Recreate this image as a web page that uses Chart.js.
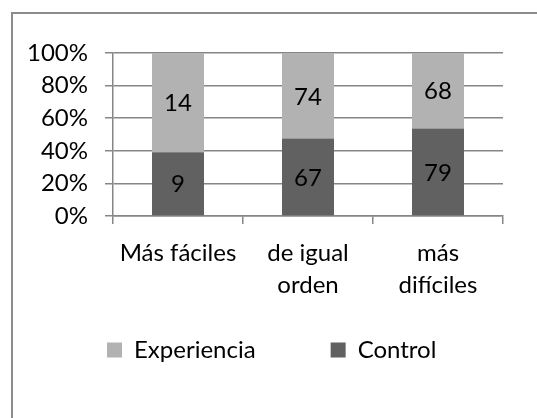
<!DOCTYPE html>
<html>
<head>
<meta charset="utf-8">
<script src="https://cdn.jsdelivr.net/npm/chart.js@4"></script>
<style>
  body { margin: 0; background: #fff; overflow: hidden; }
  #frame { position: absolute; left: 11px; top: 12px; width: 600px; height: 500px;
           border-left: 2px solid #8c8c8c; border-top: 2px solid #8c8c8c; }
  #wrap { position: absolute; left: 0; top: 0; width: 537px; height: 418px; }
</style>
</head>
<body>
<div id="frame"></div>
<div id="wrap"><canvas id="chart" width="537" height="418"></canvas></div>
<script>
const categories = [["Más fáciles"], ["de igual", "orden"], ["más", "difíciles"]];
const controlValues = [9, 67, 79];
const experienciaValues = [14, 74, 68];
const yTicks = [0, 20, 40, 60, 80, 100];

const gridColor = "#868686";
const font = { family: "Lato", size: 24 };

// 100% stacked: share of each group per category
const toPercent = (vals, other) => vals.map((v, i) => (v / (v + other[i])) * 100);

// raw counts written in the middle of each segment
const valueLabels = {
  id: "valueLabels",
  afterDatasetsDraw(chart) {
    const ctx = chart.ctx;
    ctx.save();
    ctx.font = `${font.size}px ${font.family}`;
    ctx.fillStyle = "#000";
    ctx.textAlign = "center";
    ctx.textBaseline = "middle";
    chart.data.datasets.forEach((ds, di) => {
      chart.getDatasetMeta(di).data.forEach((bar, i) => {
        ctx.fillText(ds.raw[i], bar.x, (bar.y + bar.base) / 2 + 1);
      });
    });
    ctx.restore();
  },
};

// legend sits closer to the axis labels than the layout would put it
const legendPlace = {
  id: "legendPlace",
  beforeDraw(chart) {
    const lg = chart.legend;
    const dx = 32 - lg.left, dy = 263 - lg.top;
    lg.left += dx; lg.right += dx;
    lg.top += dy; lg.bottom += dy;
  },
};

new Chart(document.getElementById("chart"), {
  type: "bar",
  data: {
    labels: categories,
    datasets: [
      {
        label: "Control",
        raw: controlValues,
        data: toPercent(controlValues, experienciaValues),
        backgroundColor: "#616161",
        borderWidth: 0,
      },
      {
        label: "Experiencia",
        raw: experienciaValues,
        data: toPercent(experienciaValues, controlValues),
        backgroundColor: "#b2b2b2",
        borderWidth: 0,
      },
    ],
  },
  options: {
    responsive: false,
    animation: false,
    events: [],
    categoryPercentage: 1,
    barPercentage: 0.4,
    layout: { padding: { top: 53, left: 0, right: 34, bottom: 3 } },
    plugins: {
      tooltip: { enabled: false },
      legend: {
        position: "bottom",
        align: "start",
        reverse: true,
        labels: {
          boxWidth: 15,
          boxHeight: 15,
          padding: 75,
          color: "#000",
          font: font,
        },
      },
    },
    scales: {
      x: {
        stacked: true,
        afterFit: (s) => { s.height = 90; },
        grid: { drawOnChartArea: false, color: gridColor, lineWidth: 1.5, tickLength: 8 },
        border: { color: gridColor, width: 1.5 },
        ticks: { color: "#000", font: { ...font, lineHeight: 1.333 }, padding: 13, maxRotation: 0, autoSkip: false },
      },
      y: {
        stacked: true,
        min: 0,
        max: 100,
        afterFit: (s) => { s.width = 113; },
        afterBuildTicks: (s) => { s.ticks = yTicks.map((v) => ({ value: v })); },
        grid: { color: gridColor, lineWidth: 1.5, tickLength: 8 },
        border: { color: gridColor, width: 1.5 },
        ticks: { color: "#000", font: font, padding: 17, callback: (v) => v + "%" },
      },
    },
  },
  plugins: [valueLabels, legendPlace],
});
</script>
</body>
</html>
